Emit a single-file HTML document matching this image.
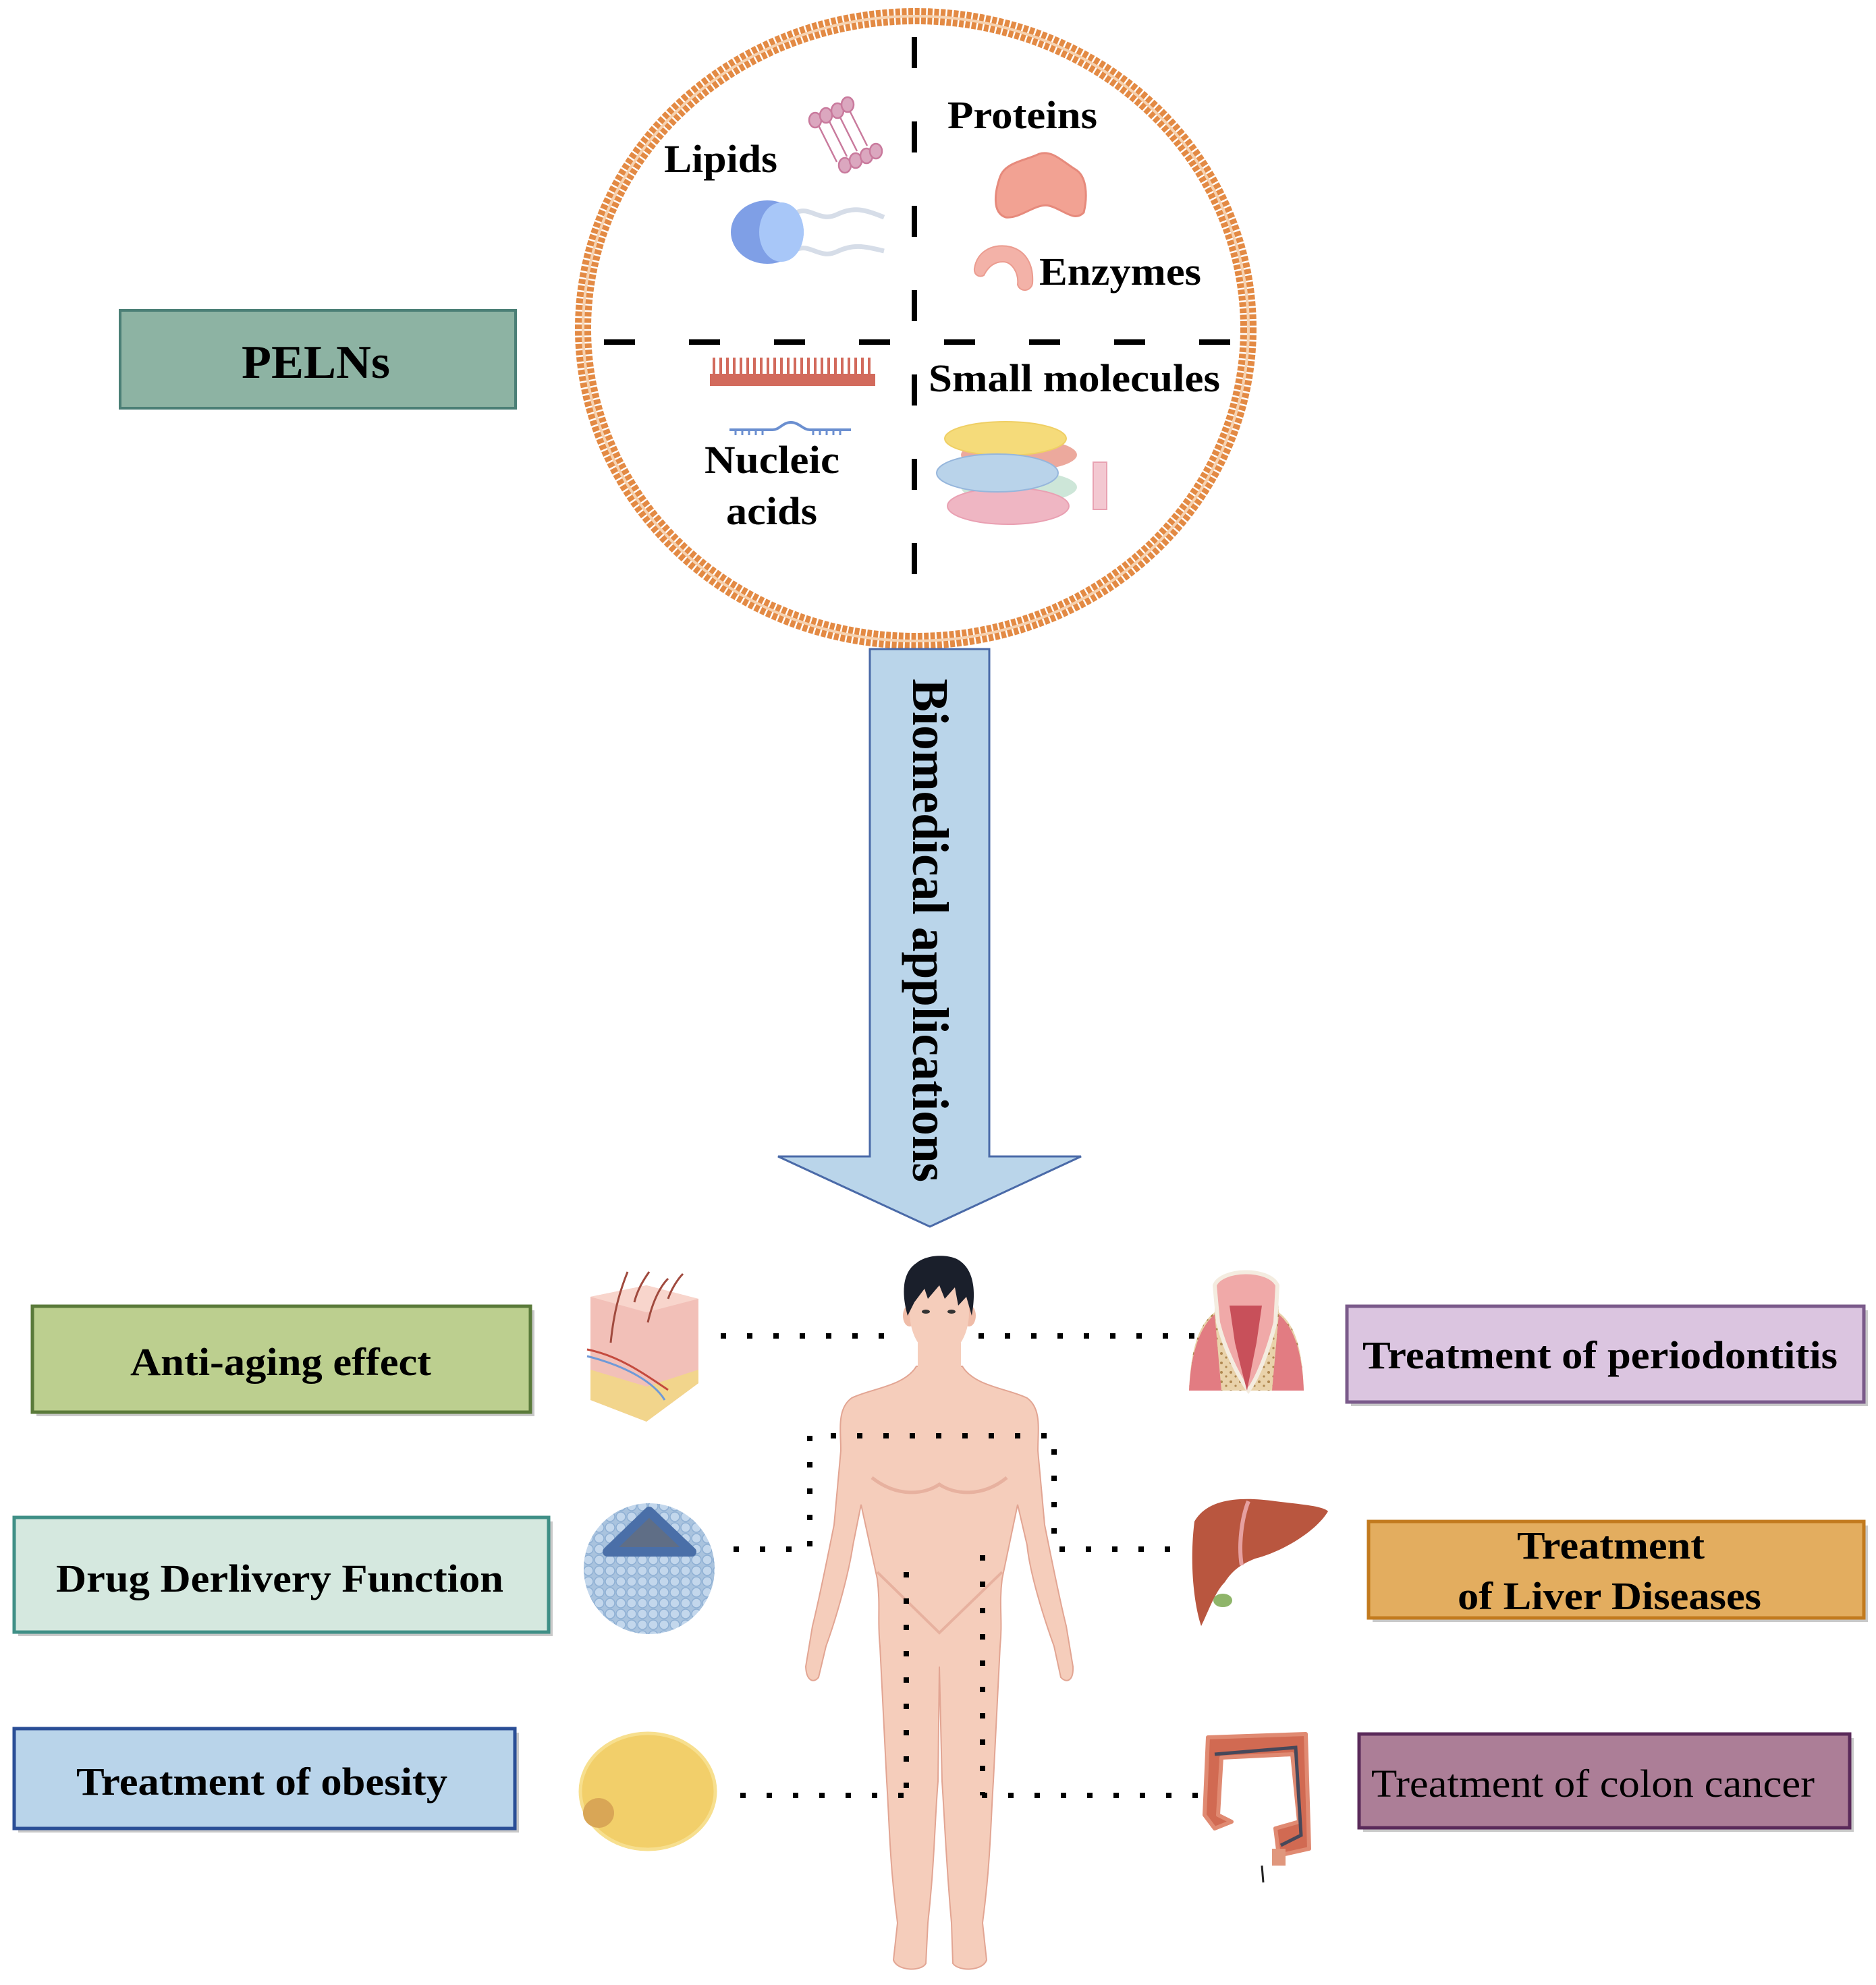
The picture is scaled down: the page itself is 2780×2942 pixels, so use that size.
<!DOCTYPE html>
<html><head><meta charset="utf-8"><style>
html,body{margin:0;padding:0;background:#fff;}
svg{display:block;}
text{font-family:"Liberation Serif","Times New Roman",serif;font-weight:bold;fill:#000;}
</style></head><body>
<svg width="2780" height="2942" viewBox="0 0 2780 2942" xmlns="http://www.w3.org/2000/svg">
<defs>
<pattern id="dots" width="16" height="16" patternUnits="userSpaceOnUse">
<rect width="16" height="16" fill="#a9c3de"/><circle cx="8" cy="8" r="7" fill="#c3d7ec" stroke="#8fb0d4" stroke-width="1.5"/></pattern>
<pattern id="bone" width="14" height="14" patternUnits="userSpaceOnUse">
<rect width="14" height="14" fill="#e9d2aa"/><circle cx="4" cy="4" r="2" fill="#b08850"/><circle cx="11" cy="10" r="1.6" fill="#b08850"/></pattern>
</defs>

<!-- membrane vesicle -->
<ellipse cx="1357" cy="487" rx="493" ry="463" fill="none" stroke="#e38a44" stroke-width="24" stroke-dasharray="7 2.5"/>
<ellipse cx="1357" cy="487" rx="493" ry="463" fill="none" stroke="#f6d2b0" stroke-width="4"/>

<!-- dashed cross -->
<line x1="1355" y1="55" x2="1355" y2="870" stroke="#000" stroke-width="8" stroke-dasharray="46 79"/>
<line x1="895" y1="507" x2="1830" y2="507" stroke="#000" stroke-width="8" stroke-dasharray="46 80"/>

<!-- PELNs -->
<rect x="178" y="460" width="586" height="145" fill="#8db3a3" stroke="#4b7f76" stroke-width="4"/>
<text x="468" y="560" font-size="70" text-anchor="middle" textLength="220" lengthAdjust="spacingAndGlyphs">PELNs</text>

<!-- labels in vesicle -->
<text x="984" y="255" font-size="58" textLength="168" lengthAdjust="spacingAndGlyphs">Lipids</text>
<text x="1404" y="190" font-size="58" textLength="222" lengthAdjust="spacingAndGlyphs">Proteins</text>
<text x="1540" y="422" font-size="58" textLength="240" lengthAdjust="spacingAndGlyphs">Enzymes</text>
<text x="1376" y="580" font-size="58" textLength="432" lengthAdjust="spacingAndGlyphs">Small molecules</text>
<text x="1044" y="701" font-size="58" textLength="200" lengthAdjust="spacingAndGlyphs">Nucleic</text>
<text x="1076" y="777" font-size="58" textLength="135" lengthAdjust="spacingAndGlyphs">acids</text>

<!-- lipid bilayer icon -->
<g stroke="#c97a9d" stroke-width="2.5" fill="#dba7bf">
<line x1="1210" y1="180" x2="1240" y2="240"/><line x1="1225" y1="172" x2="1255" y2="232"/><line x1="1240" y1="164" x2="1270" y2="224"/><line x1="1255" y1="156" x2="1285" y2="216"/>
<ellipse cx="1208" cy="178" rx="9" ry="11"/><ellipse cx="1224" cy="171" rx="9" ry="11"/><ellipse cx="1241" cy="164" rx="9" ry="11"/><ellipse cx="1256" cy="155" rx="9" ry="11"/>
<ellipse cx="1252" cy="245" rx="9" ry="11"/><ellipse cx="1268" cy="238" rx="9" ry="11"/><ellipse cx="1284" cy="231" rx="9" ry="11"/><ellipse cx="1298" cy="224" rx="9" ry="11"/>
</g>
<!-- phospholipid -->
<path d="M1180,315 C1200,305 1215,330 1240,318 S1280,310 1310,322" fill="none" stroke="#d6dde8" stroke-width="7"/>
<path d="M1180,370 C1200,360 1215,385 1240,373 S1280,365 1310,372" fill="none" stroke="#d6dde8" stroke-width="7"/>
<ellipse cx="1137" cy="344" rx="54" ry="47" fill="#7f9fe6"/>
<ellipse cx="1158" cy="344" rx="33" ry="44" fill="#a8c7f8"/>

<!-- protein -->
<path d="M1482,262 C1490,240 1520,238 1540,228 C1560,222 1575,240 1595,252 C1610,262 1612,290 1606,315 C1592,330 1575,310 1555,305 C1535,300 1512,325 1490,322 C1470,315 1474,285 1482,262 Z" fill="#f2a293" stroke="#e68a7c" stroke-width="3"/>
<!-- enzyme -->
<path d="M1444,398 C1448,370 1475,360 1498,366 C1520,372 1532,392 1530,420 C1528,432 1512,434 1508,422 C1510,405 1500,388 1486,388 C1470,388 1462,400 1458,408 C1452,412 1443,408 1444,398 Z" fill="#f3b2a8" stroke="#eb9c90" stroke-width="2"/>

<!-- comb -->
<rect x="1052" y="554" width="245" height="18" fill="#d26a5c"/>
<g stroke="#d26a5c" stroke-width="4">
<line x1="1058" y1="530" x2="1058" y2="556"/><line x1="1068" y1="530" x2="1068" y2="556"/><line x1="1078" y1="530" x2="1078" y2="556"/><line x1="1088" y1="530" x2="1088" y2="556"/><line x1="1098" y1="530" x2="1098" y2="556"/><line x1="1108" y1="530" x2="1108" y2="556"/><line x1="1118" y1="530" x2="1118" y2="556"/><line x1="1128" y1="530" x2="1128" y2="556"/><line x1="1138" y1="530" x2="1138" y2="556"/><line x1="1148" y1="530" x2="1148" y2="556"/><line x1="1158" y1="530" x2="1158" y2="556"/><line x1="1168" y1="530" x2="1168" y2="556"/><line x1="1178" y1="530" x2="1178" y2="556"/><line x1="1188" y1="530" x2="1188" y2="556"/><line x1="1198" y1="530" x2="1198" y2="556"/><line x1="1208" y1="530" x2="1208" y2="556"/><line x1="1218" y1="530" x2="1218" y2="556"/><line x1="1228" y1="530" x2="1228" y2="556"/><line x1="1238" y1="530" x2="1238" y2="556"/><line x1="1248" y1="530" x2="1248" y2="556"/><line x1="1258" y1="530" x2="1258" y2="556"/><line x1="1268" y1="530" x2="1268" y2="556"/><line x1="1278" y1="530" x2="1278" y2="556"/><line x1="1288" y1="530" x2="1288" y2="556"/>
</g>
<!-- RNA -->
<path d="M1081,637 L1145,637 C1155,637 1160,626 1172,626 C1184,626 1190,637 1200,637 L1261,637" fill="none" stroke="#6b8fd0" stroke-width="4"/>
<g stroke="#6b8fd0" stroke-width="3"><line x1="1090" y1="637" x2="1090" y2="645"/><line x1="1100" y1="637" x2="1100" y2="645"/><line x1="1110" y1="637" x2="1110" y2="645"/><line x1="1120" y1="637" x2="1120" y2="645"/><line x1="1130" y1="637" x2="1130" y2="645"/><line x1="1205" y1="637" x2="1205" y2="645"/><line x1="1215" y1="637" x2="1215" y2="645"/><line x1="1225" y1="637" x2="1225" y2="645"/><line x1="1235" y1="637" x2="1235" y2="645"/><line x1="1245" y1="637" x2="1245" y2="645"/></g>

<!-- small molecules stack -->
<ellipse cx="1510" cy="674" rx="86" ry="24" fill="#eca99d"/>
<ellipse cx="1490" cy="650" rx="90" ry="25" fill="#f5db7a" stroke="#efcf64" stroke-width="2"/>
<ellipse cx="1510" cy="722" rx="86" ry="24" fill="#cde6d8"/>
<ellipse cx="1494" cy="750" rx="90" ry="27" fill="#efb6c3" stroke="#e9a0b2" stroke-width="2"/>
<ellipse cx="1478" cy="701" rx="90" ry="28" fill="#b9d3ea" stroke="#96b6dc" stroke-width="2"/>
<rect x="1620" y="685" width="20" height="70" fill="#f3c8d1" stroke="#e8a2b2" stroke-width="2"/>

<!-- arrow -->
<path d="M1289,962 L1466,962 L1466,1714 L1602,1714 L1378,1818 L1153,1714 L1289,1714 Z" fill="#bad5ea" stroke="#4a6aa8" stroke-width="3"/>
<text transform="translate(1353,1006) rotate(90)" x="0" y="0" font-size="76" textLength="746" lengthAdjust="spacingAndGlyphs">Biomedical applications</text>

<!-- human body -->
<path d="M1358,2025 C1340,2055 1290,2058 1262,2072 C1240,2088 1246,2120 1246,2150 L1236,2260 C1228,2300 1214,2370 1204,2410 L1194,2470 C1195,2492 1206,2495 1213,2486 L1224,2440 C1242,2390 1258,2330 1264,2290 L1276,2230 L1300,2340 C1305,2380 1300,2400 1304,2440 L1314,2640 C1318,2700 1318,2760 1330,2850 L1324,2905 C1330,2922 1366,2922 1372,2910 L1375,2850 C1385,2760 1385,2700 1390,2640 L1392,2470 L1396,2640 C1400,2700 1402,2760 1410,2850 L1412,2910 C1420,2922 1456,2922 1462,2905 L1456,2850 C1468,2760 1468,2700 1472,2640 L1482,2440 C1486,2400 1480,2380 1485,2340 L1508,2230 L1522,2290 C1526,2330 1544,2390 1562,2440 L1572,2486 C1580,2495 1591,2492 1590,2470 L1580,2410 C1570,2370 1556,2300 1548,2260 L1538,2150 C1538,2120 1544,2088 1522,2072 C1494,2058 1444,2055 1426,2025 Z" fill="#f5cdbb" stroke="#e2a593" stroke-width="2"/>
<path d="M1292,2190 C1330,2220 1370,2215 1392,2200 C1414,2215 1455,2220 1492,2190" fill="none" stroke="#e7b19f" stroke-width="5"/>
<path d="M1300,2330 L1392,2420 L1485,2330" fill="none" stroke="#e7b19f" stroke-width="4"/>
<rect x="1360" y="1990" width="64" height="45" fill="#f5cdbb"/>
<ellipse cx="1348" cy="1950" rx="10" ry="16" fill="#efbca8"/>
<ellipse cx="1436" cy="1950" rx="10" ry="16" fill="#efbca8"/>
<ellipse cx="1392" cy="1945" rx="44" ry="65" fill="#f5cdbb"/>
<path d="M1345,1950 C1335,1915 1338,1885 1358,1872 C1372,1860 1400,1858 1418,1866 C1440,1878 1448,1905 1440,1950 L1432,1922 L1420,1935 L1415,1908 L1400,1925 L1392,1905 L1375,1925 L1370,1910 L1355,1930 Z" fill="#1a1f2b"/>
<ellipse cx="1372" cy="1944" rx="6" ry="3" fill="#333"/><ellipse cx="1410" cy="1944" rx="6" ry="3" fill="#333"/>

<!-- dotted connectors (over body) -->
<g stroke="#000" stroke-width="8" stroke-dasharray="8 31" fill="none">
<line x1="1068" y1="1980" x2="1340" y2="1980"/>
<line x1="1450" y1="1980" x2="1775" y2="1980"/>
<path d="M1087,2296 L1200,2296 L1200,2128 L1562,2128 L1562,2296 L1740,2296"/>
<line x1="1097" y1="2661" x2="1340" y2="2661"/>
<line x1="1455" y1="2661" x2="1792" y2="2661"/>
<line x1="1343" y1="2330" x2="1343" y2="2661"/>
<line x1="1456" y1="2305" x2="1456" y2="2661"/>
</g>

<!-- left icons -->
<path d="M875,1922 L958,1905 L1035,1925 L1035,2050 L958,2107 L875,2075 Z" fill="#f2c0b8"/>
<path d="M875,2030 L958,2055 L1035,2030 L1035,2050 L958,2107 L875,2075 Z" fill="#f2d58c"/>
<path d="M875,1922 L958,1905 L1035,1925 L958,1945 Z" fill="#f8d5cc"/>
<g stroke="#a04a3e" stroke-width="3" fill="none"><path d="M905,1990 C910,1940 920,1910 930,1885"/><path d="M940,1930 C945,1910 955,1895 962,1885"/><path d="M960,1960 C968,1925 980,1905 990,1895"/><path d="M990,1925 C995,1910 1005,1895 1012,1888"/></g>
<g stroke-width="3" fill="none"><path d="M870,2000 C920,2010 960,2040 990,2060" stroke="#c44a3e"/><path d="M870,2010 C930,2025 970,2050 985,2075" stroke="#6f9ad8"/></g>

<circle cx="962" cy="2325" r="97" fill="url(#dots)"/>
<path d="M900,2300 L962,2240 L1025,2300 Z" fill="#5f6e86" stroke="#4a6fa8" stroke-width="14" stroke-linejoin="round"/>

<ellipse cx="960" cy="2655" rx="100" ry="86" fill="#f2cf6a" stroke="#f7df8e" stroke-width="5"/>
<ellipse cx="887" cy="2687" rx="23" ry="22" fill="#d9a656"/>

<!-- right icons -->
<path d="M1762,2061 C1765,1990 1780,1960 1800,1945 L1800,1905 C1810,1880 1880,1875 1892,1905 L1895,1945 C1915,1960 1930,1990 1932,2061 Z" fill="url(#bone)"/>
<path d="M1762,2061 C1765,2000 1780,1965 1800,1948 L1810,2061 Z M1932,2061 C1930,2000 1915,1965 1895,1948 L1885,2061 Z" fill="#e27c82"/>
<path d="M1800,1905 C1810,1880 1880,1878 1893,1905 L1890,1960 C1880,2000 1865,2040 1850,2061 C1835,2040 1815,2000 1805,1960 Z" fill="#f0a9a8" stroke="#f4ece0" stroke-width="6"/>
<path d="M1822,1935 L1870,1935 L1862,1990 C1856,2020 1850,2050 1848,2061 C1842,2040 1835,2010 1830,1990 Z" fill="#c8505a"/>

<path d="M1770,2255 C1790,2220 1840,2218 1890,2225 C1930,2230 1960,2232 1968,2240 C1950,2270 1900,2300 1860,2310 C1835,2320 1825,2330 1815,2345 C1800,2360 1790,2390 1780,2410 C1770,2380 1762,2320 1770,2255 Z" fill="#b9563f"/>
<path d="M1850,2225 C1840,2250 1835,2290 1840,2320" fill="none" stroke="#e6a0a0" stroke-width="6"/>
<ellipse cx="1812" cy="2372" rx="14" ry="10" fill="#8fb56a"/>

<path d="M1790,2575 L1935,2570 L1940,2740 L1895,2750 L1890,2710 L1925,2700 L1915,2600 L1810,2605 L1805,2690 L1825,2700 L1800,2710 L1785,2690 Z" fill="#d16a52" stroke="#e08a72" stroke-width="6" stroke-linejoin="round"/>
<path d="M1800,2600 L1920,2590 L1928,2720 L1898,2735" fill="none" stroke="#46485a" stroke-width="5"/>
<rect x="1885" y="2740" width="20" height="25" fill="#e0977d"/>
<line x1="1870" y1="2765" x2="1872" y2="2790" stroke="#222" stroke-width="3"/>

<!-- boxes with shadows -->
<g fill="#c9c9c9">
<rect x="54" y="1942" width="738" height="157"/>
<rect x="27" y="2255" width="792" height="170"/>
<rect x="27" y="2568" width="742" height="148"/>
<rect x="2002" y="1942" width="766" height="142"/>
<rect x="2034" y="2261" width="734" height="143"/>
<rect x="2020" y="2576" width="727" height="139"/>
</g>
<rect x="48" y="1936" width="738" height="157" fill="#bccf8f" stroke="#5a7a3a" stroke-width="5"/>
<rect x="21" y="2249" width="792" height="170" fill="#d5e8df" stroke="#3f8f86" stroke-width="5"/>
<rect x="21" y="2562" width="742" height="148" fill="#b9d4ea" stroke="#2a4e96" stroke-width="5"/>
<rect x="1996" y="1936" width="766" height="142" fill="#dbc5e0" stroke="#7a5a8a" stroke-width="5"/>
<rect x="2028" y="2255" width="734" height="143" fill="#e3ad5f" stroke="#c27a1e" stroke-width="5"/>
<rect x="2014" y="2570" width="727" height="139" fill="#ac7e97" stroke="#5a2a5a" stroke-width="5"/>

<text x="193" y="2038" font-size="58" textLength="446" lengthAdjust="spacingAndGlyphs">Anti-aging effect</text>
<text x="83" y="2359" font-size="58" textLength="663" lengthAdjust="spacingAndGlyphs">Drug Derlivery Function</text>
<text x="113" y="2660" font-size="58" textLength="550" lengthAdjust="spacingAndGlyphs">Treatment of obesity</text>
<text x="2019" y="2028" font-size="58" textLength="704" lengthAdjust="spacingAndGlyphs">Treatment of periodontitis</text>
<text x="2248" y="2310" font-size="58" textLength="278" lengthAdjust="spacingAndGlyphs">Treatment</text>
<text x="2160" y="2385" font-size="58" textLength="450" lengthAdjust="spacingAndGlyphs">of Liver Diseases</text>
<text x="2032" y="2663" font-size="58" style="font-weight:normal" textLength="657" lengthAdjust="spacingAndGlyphs">Treatment of colon cancer</text>
</svg>
</body></html>
